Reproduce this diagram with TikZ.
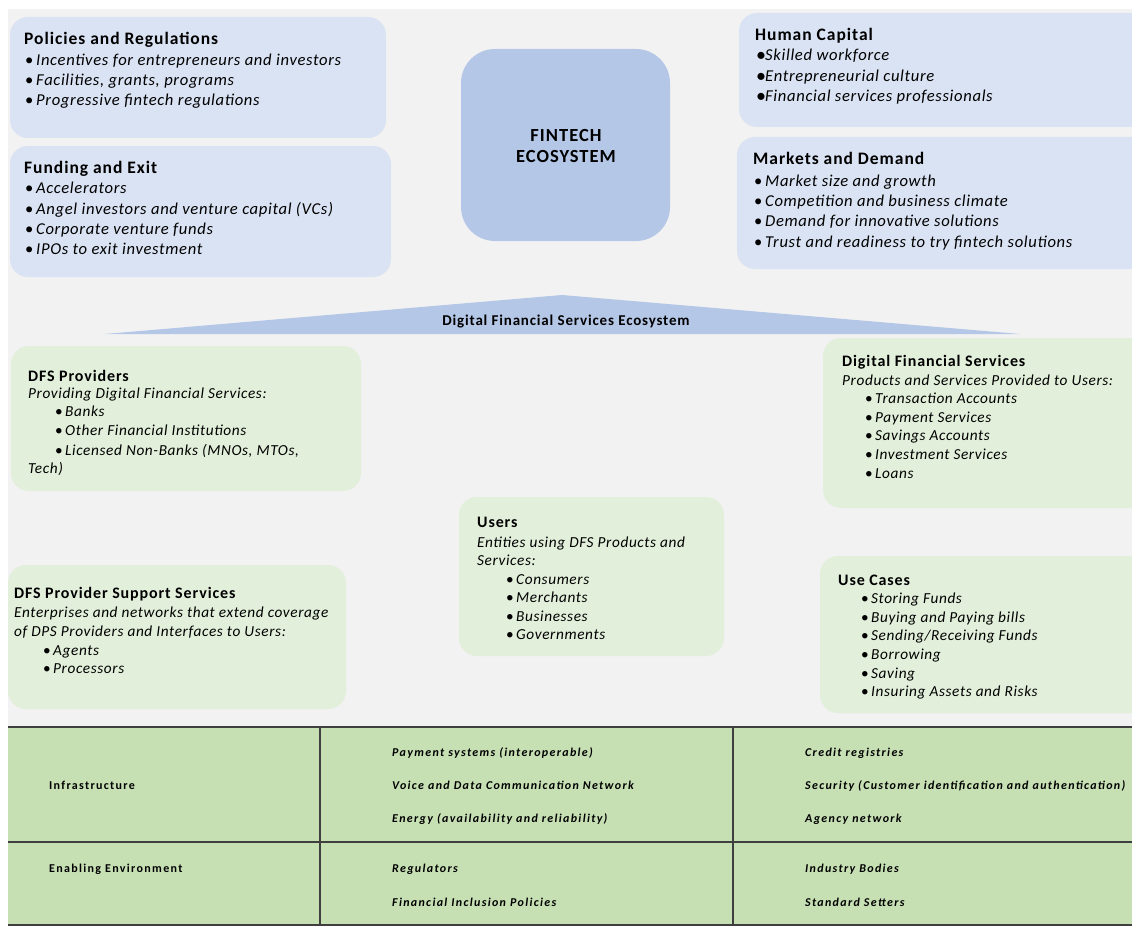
\documentclass[tikz,border=0pt]{standalone}
\usepackage{fontspec}
\setmainfont{Carlito}
\newfontfamily\itemfont[LetterSpace=4]{Carlito}
\newfontfamily\headfont[LetterSpace=5.5]{Carlito}
\newfontfamily\cellfont[LetterSpace=11]{Carlito}
\definecolor{panelgrey}{HTML}{F2F2F2}
\definecolor{lightblue}{HTML}{DAE3F3}
\definecolor{midblue}{HTML}{B4C7E7}
\definecolor{lightgreen}{HTML}{E2EFDA}
\definecolor{tablegreen}{HTML}{C6E0B4}
\definecolor{rulegrey}{HTML}{3F3F3F}
\newcommand\bul{\makebox[11pt][l]{\upshape\textbullet}}
\newcommand\sbul{\makebox[10pt][l]{\upshape\textbullet}}
\newcommand\dotbul{\makebox[9pt][l]{\upshape\fontsize{20}{20}\selectfont\raisebox{-1pt}{\textbullet}}}
\tikzset{
  bluebox/.style={fill=lightblue, rounded corners=18pt},
  greenbox/.style={fill=lightgreen, rounded corners=18pt},
  head/.style={anchor=mid west, inner sep=0pt, yshift=-4pt, font=\headfont\fontsize{17.5}{19}\selectfont\bfseries},
  item/.style={anchor=mid west, inner sep=0pt, yshift=-4pt, font=\itemfont\fontsize{16.6}{19}\selectfont\itshape},
  smallhead/.style={head, font=\headfont\fontsize{16}{18}\selectfont\bfseries},
  smallitem/.style={item, font=\itemfont\fontsize{15.3}{18}\selectfont\itshape},
  cell/.style={anchor=mid west, inner sep=0pt, yshift=-2pt, font=\cellfont\fontsize{12}{14}\selectfont\bfseries\itshape},
  rowlabel/.style={cell, font=\cellfont\fontsize{12}{14}\selectfont\bfseries},
}
\begin{document}
\begin{tikzpicture}[x=1pt,y=-1pt]
  \useasboundingbox (0,0) rectangle (1132,928);
  \clip (0,0) rectangle (1132,928);
  \fill[white] (0,0) rectangle (1132,928);
  \fill[panelgrey] (8,9) rectangle (1132,726);

  % fintech ecosystem
  \fill[bluebox] (10,17) rectangle (386,138);
  \fill[bluebox] (10,146) rectangle (391,277);
  \fill[midblue, rounded corners=34pt] (461,49) rectangle (670,241);
  \fill[bluebox] (739,13) rectangle (1160,127);
  \fill[bluebox] (737,137) rectangle (1160,269);

  \node[head] (pol) at (24,38) {Policies and Regulations};
  \foreach \y/\t [count=\i] in {59/Incentives for entrepreneurs and investors,
      79/{Facilities, grants, programs}, 99/Progressive fintech regulations}
    \node[item] (pol-\i) at (25,\y) {\bul\t};

  \node[head] (fund) at (24,167) {Funding and Exit};
  \foreach \y/\t [count=\i] in {187/Accelerators, 208/Angel investors and venture capital (VCs),
      228/Corporate venture funds, 248/IPOs to exit investment}
    \node[item] (fund-\i) at (25,\y) {\bul\t};

  \node[align=center, font=\headfont\fontsize{18.5}{21}\selectfont\bfseries] (fintech) at (566,146) {FINTECH\\ECOSYSTEM};

  \node[head] (human) at (755,34) {Human Capital};
  \foreach \y/\t [count=\i] in {54/Skilled workforce, 75/Entrepreneurial culture,
      95/Financial services professionals}
    \node[item] (human-\i) at (756,\y) {\dotbul\t};

  \node[head] (market) at (753,158) {Markets and Demand};
  \foreach \y/\t [count=\i] in {180/Market size and growth, 200/Competition and business climate,
      220/Demand for innovative solutions, 241/Trust and readiness to try fintech solutions}
    \node[item] (market-\i) at (754,\y) {\bul\t};

  % dfs ecosystem
  \fill[midblue] (105,334) -- (562,295) -- (1020,334) -- cycle;
  \node[yshift=-2pt, font=\headfont\fontsize{15}{17}\selectfont\bfseries] (dfs) at (566,320) {Digital Financial Services Ecosystem};

  \fill[greenbox] (11,346) rectangle (361,491);
  \fill[greenbox] (823,338) rectangle (1160,508);
  \fill[greenbox] (459,497) rectangle (724,656);
  \fill[greenbox] (8,565) rectangle (346,709);
  \fill[greenbox] (820,556) rectangle (1160,713);

  \node[smallhead] (prov) at (28,375) {DFS Providers};
  \node[smallitem] (prov-sub) at (28,392) {Providing Digital Financial Services:};
  \foreach \y/\t [count=\i] in {410/Banks, 429/Other Financial Institutions,
      449/{Licensed Non-Banks (MNOs, MTOs,}}
    \node[smallitem] (prov-\i) at (55,\y) {\sbul\t};
  \node[smallitem] (prov-end) at (28,467) {Tech)};

  \node[smallhead] (serv) at (842,360) {Digital Financial Services};
  \node[smallitem] (serv-sub) at (842,379) {Products and Services Provided to Users:};
  \foreach \y/\t [count=\i] in {397/Transaction Accounts, 416/Payment Services,
      434/Savings Accounts, 453/Investment Services, 472/Loans}
    \node[smallitem] (serv-\i) at (865,\y) {\sbul\t};

  \node[smallhead] (users) at (477,521) {Users};
  \node[smallitem] (users-sub) at (477,541) {Entities using DFS Products and};
  \node[smallitem] (users-sub2) at (477,559) {Services:};
  \foreach \y/\t [count=\i] in {578/Consumers, 596/Merchants, 615/Businesses, 633/Governments}
    \node[smallitem] (users-\i) at (506,\y) {\sbul\t};

  \node[smallhead] (supp) at (14,592) {DFS Provider Support Services};
  \node[smallitem] (supp-sub) at (14,611) {Enterprises and networks that extend coverage};
  \node[smallitem] (supp-sub2) at (14,630) {of DPS Providers and Interfaces to Users:};
  \foreach \y/\t [count=\i] in {649/Agents, 667/Processors}
    \node[smallitem] (supp-\i) at (43,\y) {\sbul\t};

  \node[smallhead] (uses) at (838,579) {Use Cases};
  \foreach \y/\t [count=\i] in {597/Storing Funds, 616/Buying and Paying bills,
      634/{Sending/Receiving Funds}, 653/Borrowing, 672/Saving, 690/Insuring Assets and Risks}
    \node[smallitem] (uses-\i) at (861,\y) {\sbul\t};

  % table
  \fill[tablegreen] (8,727) rectangle (1132,925);
  \draw[rulegrey, line width=1.3pt] (8,727) -- (1132,727) (8,842) -- (1132,842) (8,925) -- (1132,925)
    (320,727) -- (320,925) (733,727) -- (733,925);

  \node[rowlabel] (infra) at (49,785) {Infrastructure};
  \node[rowlabel] (enable) at (49,868) {Enabling Environment};
  \node[cell] (c1) at (392,752) {Payment systems (interoperable)};
  \node[cell] (c2) at (392,785) {Voice and Data Communication Network};
  \node[cell] (c3) at (392,818) {Energy (availability and reliability)};
  \node[cell] (c4) at (805,752) {Credit registries};
  \node[cell] (c5) at (805,785) {Security (Customer identification and authentication)};
  \node[cell] (c6) at (805,818) {Agency network};
  \node[cell] (c7) at (392,868) {Regulators};
  \node[cell] (c8) at (392,902) {Financial Inclusion Policies};
  \node[cell] (c9) at (805,868) {Industry Bodies};
  \node[cell] (c10) at (805,902) {Standard Setters};
\end{tikzpicture}
\end{document}
